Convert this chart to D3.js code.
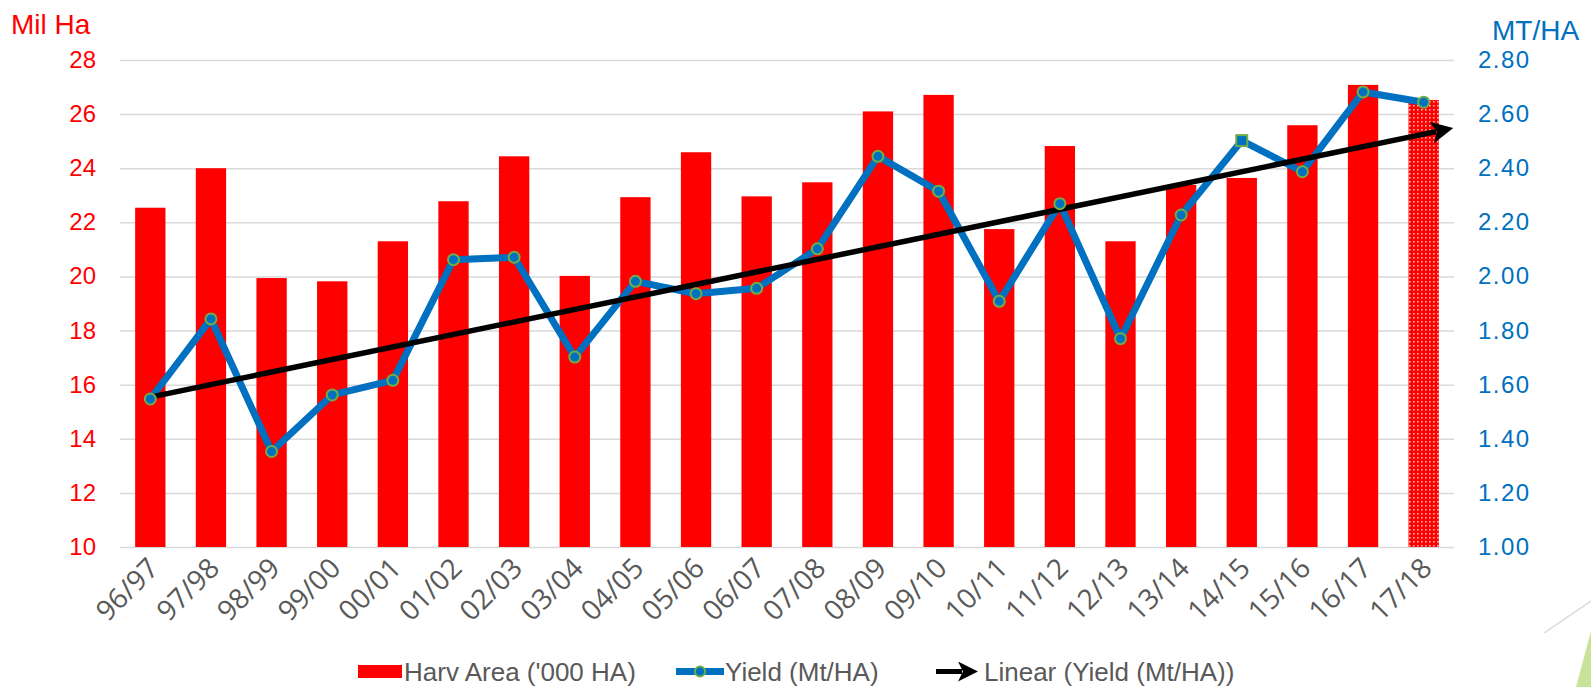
<!DOCTYPE html>
<meta charset="utf-8">
<style>
body { margin: 0; background: #fff; }
.grid line { stroke: #d9d9d9; stroke-width: 1.5; }
.grid path { display: none; }
.ylab { font: 24px "Liberation Sans", sans-serif; }
.xlab { font: 28px "Open Sans", sans-serif; fill: #595959; }
.legend text { font: 26px "Liberation Sans", sans-serif; fill: #595959; }
</style>
<body>
<svg width="1591" height="687"></svg>
<script src="https://cdn.jsdelivr.net/npm/d3@7"></script>
<script>

var seasons = ["96/97","97/98","98/99","99/00","00/01","01/02","02/03","03/04","04/05","05/06","06/07",
               "07/08","08/09","09/10","10/11","11/12","12/13","13/14","14/15","15/16","16/17","17/18"];

// harvested area, million ha (left axis)
var harvArea = [22.54, 24.0, 19.94, 19.82, 21.3, 22.78, 24.44, 20.02, 22.93, 24.59, 22.96,
                23.48, 26.1, 26.71, 21.75, 24.82, 21.3, 23.38, 23.64, 25.59, 27.08, 26.52];

// yield, mt/ha (right axis)
var yieldVals = [1.547, 1.843, 1.353, 1.562, 1.616, 2.062, 2.071, 1.702, 1.982, 1.936, 1.956,
                 2.102, 2.444, 2.315, 1.908, 2.269, 1.77, 2.227, 2.502, 2.387, 2.682, 2.644];

var leftTicks = [10, 12, 14, 16, 18, 20, 22, 24, 26, 28];
var rightTicks = [1.0, 1.2, 1.4, 1.6, 1.8, 2.0, 2.2, 2.4, 2.6, 2.8];

var svg = d3.select("svg");
var plotL = 120, plotR = 1454, plotT = 60, plotB = 547;

var x = d3.scaleBand()
    .domain(seasons)
    .range([plotL, plotR])
    .paddingInner(0.5)
    .paddingOuter(0.25);

var yL = d3.scaleLinear().domain([10, 28]).range([plotB, plotT]);
var yR = d3.scaleLinear().domain([1.0, 2.8]).range([plotB, plotT]);

// pattern for the last (forecast) bar
var defs = svg.append("defs");
var pat = defs.append("pattern")
    .attr("id", "dots")
    .attr("patternUnits", "userSpaceOnUse")
    .attr("width", 4).attr("height", 4);
pat.append("rect").attr("width", 4).attr("height", 4).attr("fill", "#ff0000");
pat.append("rect").attr("x", 1).attr("y", 1).attr("width", 1.6).attr("height", 1.6)
    .attr("fill", "#fff").attr("opacity", 0.7);

defs.append("marker")
    .attr("id", "arrow")
    .attr("viewBox", "0 0 10 10")
    .attr("refX", 2).attr("refY", 5)
    .attr("markerWidth", 4).attr("markerHeight", 4)
    .attr("orient", "auto")
  .append("path")
    .attr("d", "M0,0 L10,5 L0,10 L2.5,5 Z")
    .attr("fill", "#000");

// gridlines
svg.append("g")
    .attr("class", "grid")
    .attr("transform", "translate(" + plotL + ",0)")
    .call(d3.axisRight(yL).tickValues(leftTicks).tickSize(plotR - plotL).tickFormat(""));

// bars
svg.append("g").selectAll("rect")
  .data(harvArea)
  .enter().append("rect")
    .attr("x", function(d, i) { return x(seasons[i]); })
    .attr("y", function(d) { return yL(d); })
    .attr("width", x.bandwidth())
    .attr("height", function(d) { return yL(10) - yL(d); })
    .attr("fill", function(d, i) { return i == seasons.length - 1 ? "url(#dots)" : "#ff0000"; });

// yield line
var cx = function(d, i) { return x(seasons[i]) + x.bandwidth() / 2; };
var line = d3.line()
    .x(cx)
    .y(function(d) { return yR(d); });

svg.append("path")
    .datum(yieldVals)
    .attr("fill", "none")
    .attr("stroke", "#0070c0")
    .attr("stroke-width", 7)
    .attr("stroke-linejoin", "round")
    .attr("d", line);

// linear trend (least squares), forward half a period
var n = yieldVals.length;
var mx = d3.mean(d3.range(n)), my = d3.mean(yieldVals);
var slope = d3.sum(yieldVals, function(d, i) { return (i - mx) * (d - my); }) /
            d3.sum(d3.range(n), function(i) { return (i - mx) * (i - mx); });
var icpt = my - slope * mx;
var step = x.step();
var x0 = cx(null, 0);
var endI = n - 0.5 - 18 / step;
svg.append("line")
    .attr("x1", x0)
    .attr("y1", yR(icpt))
    .attr("x2", x0 + endI * step)
    .attr("y2", yR(icpt + slope * endI))
    .attr("stroke", "#000")
    .attr("stroke-width", 5.5)
    .attr("marker-end", "url(#arrow)");

// markers
svg.append("g").selectAll(".mk")
  .data(yieldVals)
  .enter().each(function(d, i) {
    var g = d3.select(this);
    if (i == 18) {
      g.append("rect")
        .attr("x", cx(d, i) - 5.5).attr("y", yR(d) - 5.5)
        .attr("width", 11).attr("height", 11)
        .attr("fill", "#0070c0").attr("stroke", "#70ad47").attr("stroke-width", 2);
    } else {
      g.append("circle")
        .attr("cx", cx(d, i)).attr("cy", yR(d)).attr("r", 5.5)
        .attr("fill", "#0070c0").attr("stroke", "#70ad47").attr("stroke-width", 2);
    }
  });

// left axis labels
svg.append("g").selectAll("text")
  .data(leftTicks)
  .enter().append("text")
    .attr("class", "ylab")
    .attr("x", 96)
    .attr("y", function(d) { return yL(d) + 8; })
    .attr("text-anchor", "end")
    .attr("fill", "#ff0000")
    .text(function(d) { return d; });

svg.append("text")
    .attr("x", 11).attr("y", 34)
    .attr("fill", "#ff0000")
    .style("font", "28px 'Liberation Sans', sans-serif")
    .text("Mil Ha");

// right axis labels
svg.append("g").selectAll("text")
  .data(rightTicks)
  .enter().append("text")
    .attr("class", "ylab")
    .attr("x", 1478)
    .attr("y", function(d) { return yR(d) + 8; })
    .attr("fill", "#0070c0")
    .attr("letter-spacing", 1.5)
    .text(function(d) { return d.toFixed(2); });

svg.append("text")
    .attr("x", 1492).attr("y", 40)
    .attr("fill", "#0070c0")
    .style("font", "28px 'Liberation Sans', sans-serif")
    .text("MT/HA");

// x labels
svg.append("g").selectAll("text")
  .data(seasons)
  .enter().append("text")
    .attr("class", "xlab")
    .attr("text-anchor", "end")
    .attr("transform", function(d) {
      return "translate(" + (x(d) + x.bandwidth() / 2 + 10) + ",570) rotate(-45)";
    })
    .text(function(d) { return d; });

// legend
var lg = svg.append("g").attr("class", "legend");
lg.append("rect").attr("x", 358).attr("y", 665).attr("width", 44).attr("height", 13).attr("fill", "#ff0000");
lg.append("text").attr("x", 404).attr("y", 681).text("Harv Area ('000 HA)");

lg.append("line").attr("x1", 676).attr("x2", 724).attr("y1", 671.5).attr("y2", 671.5)
    .attr("stroke", "#0070c0").attr("stroke-width", 7);
lg.append("circle").attr("cx", 700).attr("cy", 671.5).attr("r", 5)
    .attr("fill", "#0070c0").attr("stroke", "#70ad47").attr("stroke-width", 2);
lg.append("text").attr("x", 725).attr("y", 681).text("Yield (Mt/HA)");

lg.append("line").attr("x1", 936).attr("x2", 962).attr("y1", 671.5).attr("y2", 671.5)
    .attr("stroke", "#000").attr("stroke-width", 5).attr("marker-end", "url(#arrow)");
lg.append("text").attr("x", 984).attr("y", 681).text("Linear (Yield (Mt/HA))");

// slide decoration, bottom right
svg.append("line")
    .attr("x1", 1544).attr("y1", 633).attr("x2", 1591).attr("y2", 601)
    .attr("stroke", "#d9d9d9").attr("stroke-width", 1.5);
svg.append("path")
    .attr("d", "M1576,687 L1591,631 L1591,687 Z")
    .attr("fill", "#c9e29a");

</script>
</body>
